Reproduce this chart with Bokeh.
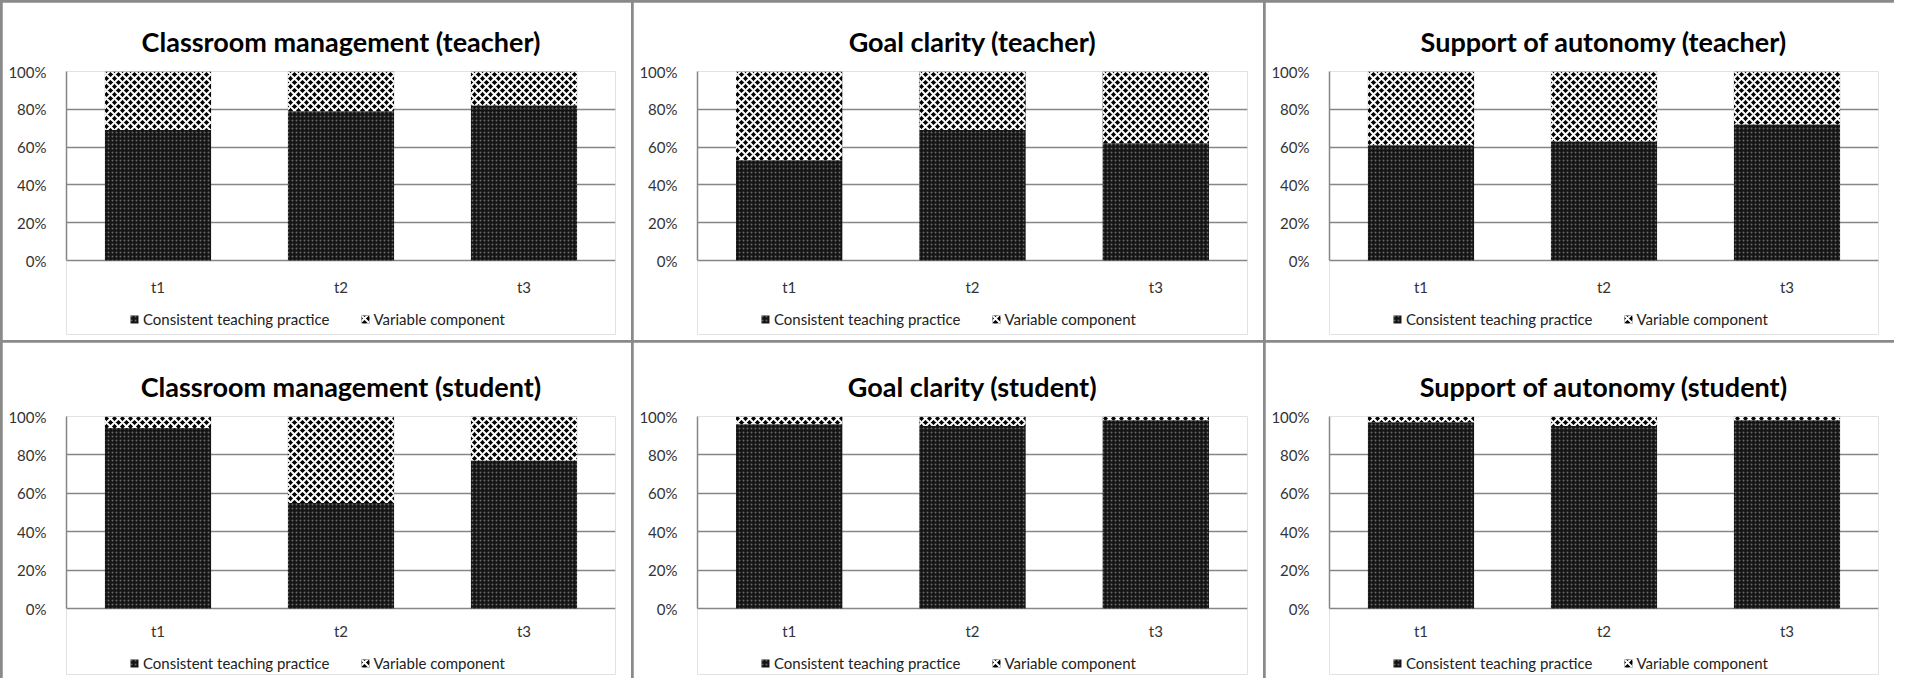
from bokeh.plotting import figure
from bokeh.models import (ColumnDataSource, FixedTicker, PrintfTickFormatter, Range1d,
                          FactorRange, Legend, LegendItem)
from bokeh.core.properties import value
from bokeh.layouts import row, column
from bokeh.embed import file_html
from bokeh.resources import INLINE

# ---------------- data ----------------
periods = ["t1", "t2", "t3"]
panel_titles = [
    "Classroom management (teacher)",
    "Goal clarity (teacher)",
    "Support of autonomy (teacher)",
    "Classroom management (student)",
    "Goal clarity (student)",
    "Support of autonomy (student)",
]
series_labels = ["Consistent teaching practice", "Variable component"]
y_ticks = [0, 20, 40, 60, 80, 100]

# share of "consistent teaching practice" (percent); variable component = 100 - consistent
cm_teacher = [69, 79, 82]
gc_teacher = [53, 69, 62]
sa_teacher = [61, 63, 72]
cm_student = [94, 55, 77]
gc_student = [96, 95, 98]
sa_student = [97, 95, 98]

FONT = "Lato"
GRID = "#868686"


def make_panel(title, consistent, w, h, top, bot, plot_px, label_px, legend_px, title_standoff):
    variable = [100 - c for c in consistent]
    total = [c + v for c, v in zip(consistent, variable)]
    src = ColumnDataSource(dict(t=periods, base=[0] * len(periods), consistent=consistent,
                                variable=variable, total=total))
    frame_px = h - top - bot
    y_min = 100 - frame_px * 100.0 / plot_px          # room below 0% for labels + legend
    label_y = -label_px * 100.0 / plot_px
    below_px = frame_px - plot_px

    p = figure(x_range=FactorRange(*periods), y_range=Range1d(y_min, 100),
               width=w, height=h, output_backend="svg", toolbar_location=None,
               min_border_left=64, min_border_right=16,
               min_border_top=top, min_border_bottom=bot,
               title=title)
    p.title.align = "center"
    p.title.text_font = FONT
    p.title.text_font_size = "27px"
    p.title.text_font_style = "bold"
    p.title.text_color = "black"
    p.title.standoff = title_standoff
    p.title.offset = -20

    r1 = p.vbar(x="t", bottom="base", top="consistent", width=0.58, source=src,
                fill_color="#151515", line_color=None,
                hatch_pattern="dot", hatch_color="white", hatch_scale=4, hatch_alpha=0.35)
    r2 = p.vbar(x="t", bottom="consistent", top="total", width=0.58, source=src,
                fill_color="black", line_color=None,
                hatch_pattern="diagonal_cross", hatch_color="white",
                hatch_scale=8, hatch_weight=2)

    # category labels (x axis drawn inside the frame so the legend can sit below it)
    lsrc = ColumnDataSource(dict(t=periods, y=[label_y] * len(periods)))
    p.text(x="t", y="y", text="t", source=lsrc, text_font=value(FONT),
           text_font_size=value("15px"), text_color="#333333",
           text_align="center", text_baseline="middle")

    legend = Legend(items=[LegendItem(label=series_labels[0], renderers=[r1]),
                           LegendItem(label=series_labels[1], renderers=[r2])],
                    orientation="horizontal",
                    location=(63, int(round(below_px - legend_px - 9))),
                    border_line_color=None, background_fill_alpha=0,
                    label_text_font=FONT, label_text_font_size="15px",
                    label_text_color="#222222",
                    glyph_width=10, glyph_height=10, label_standoff=4,
                    spacing=30, padding=0, margin=0)
    p.add_layout(legend)

    p.xaxis.visible = False
    p.yaxis.ticker = FixedTicker(ticks=y_ticks)
    p.yaxis.formatter = PrintfTickFormatter(format="%d%%")
    p.yaxis.bounds = (0, 100)
    p.yaxis.major_tick_line_color = None
    p.yaxis.minor_tick_line_color = None
    p.yaxis.axis_line_color = GRID
    p.yaxis.axis_line_width = 1.5
    p.yaxis.major_label_text_font = FONT
    p.yaxis.major_label_text_font_size = "15px"
    p.yaxis.major_label_text_color = "#333333"
    p.yaxis.major_label_standoff = 14

    p.xgrid.grid_line_color = None
    p.ygrid.grid_line_color = GRID
    p.ygrid.grid_line_width = 1.5
    p.outline_line_color = None
    p.background_fill_color = "white"
    p.border_fill_color = "white"
    return p


values = [cm_teacher, gc_teacher, sa_teacher, cm_student, gc_student, sa_student]
widths = [629, 630, 629]
panels = []
for i, (t, v) in enumerate(zip(panel_titles, values)):
    if i < 3:
        p = make_panel(t, v, widths[i], 338, 69, 6, 189, 26, 59, 27)
    else:
        p = make_panel(t, v, widths[i - 3], 336, 74, 4, 192, 22, 55, 28)
    panels.append(p)

layout = column(row(*panels[:3], spacing=2), row(*panels[3:], spacing=2), spacing=2,
                styles={"background-color": "#8a8a8a", "padding-left": "2px", "padding-top": "2px"})

open("out.html", "w").write(file_html(layout, INLINE))
